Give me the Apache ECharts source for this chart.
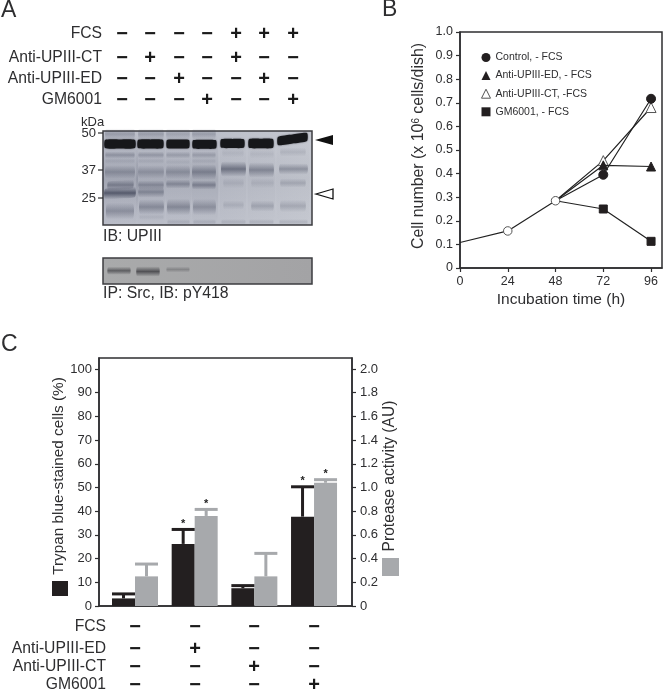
<!DOCTYPE html>
<html><head><meta charset="utf-8">
<style>html,body{margin:0;padding:0;background:#fff}#c{width:664px;height:693px}</style>
<script src="https://cdn.jsdelivr.net/npm/echarts@6/dist/echarts.min.js"></script>
</head><body><div id="c"></div>
<script>
// Panel A table
const tableALabels = ['FCS','Anti-UPIII-CT','Anti-UPIII-ED','GM6001'];
const tableAMarks = ['----+++','-+--+--','--+--+-','---+--+'];
const kDaLabels = ['50','37','25'];
// Panel A blot: [x0, x1, yCentre, height, alpha, tilt] in blot units
const blotMain = [[2,32,13,8,0],[35,60,13,8,0],[64,86,13,8,0],[90,113,13.3,8,0],[118,141,12.5,8,0],[146,170,12.5,8.5,0],[175,204,10,8,-4]];
const blotSmear = [[1,33,48,90,.2,0],[35,61,48,90,.16,0],[64,87,48,90,.15,0],[90,114,48,90,.17,0],[118,142,50,80,.08,0],[146,171,50,80,.08,0],[175,205,50,80,.06,0]];
const blotSoft = [
 [3,31,3,10,.25,0],[36,60,3,10,.25,0],[64,86,3,10,.2,0],[90,112,3,10,.25,0],
 [3,31,24,6,.28,0],[36,60,24,6,.26,0],[64,86,24,6,.22,0],[90,112,24,6,.22,0],[120,140,22,8,.08,0],[148,170,23,8,.08,0],[178,202,21,8,.12,0],
 [3,31,30,5,.1,0],[36,60,30,5,.1,0],[64,86,31,5,.08,0],[90,112,30,5,.1,0],
 [3,31,41,12,.3,0],[36,60,41,12,.28,0],[64,86,41,13,.32,0],[90,112,41,14,.42,0],[119,142,38,14,.55,0],[147,170,39,14,.42,0],[177,204,38,10,.35,0],
 [5,30,55,8,.42,-2],[36,60,54,8,.36,0],[64,86,53,8,.36,0],[90,112,54,8,.42,0],[121,140,52,9,.11,0],[149,170,52,9,.11,0],[178,202,52,8,.2,0],
 [2,32,63,10,.7,-2],[36,60,61,10,.38,0],
 [4,30,80,15,.32,0],[37,60,76,14,.36,0],[65,86,76,15,.38,0],[91,112,76,15,.32,0],[121,140,74,8,.13,0],[149,170,75,10,.22,0],[178,202,75,11,.2,0],
 [37,60,86,5,.08,0],[65,86,91,5,.13,0],[91,112,91,5,.13,0],[119,142,91,5,.12,0],[147,170,91,5,.13,0],[177,204,91,5,.13,0]
];
const blotLower = [[5,27,139.7,7,.6,0],[34,56,140.5,9,.7,0],[64,86,138.5,5,.28,0]];
const blotPanels = [[0,209,0,94],[0,209,127,153]];
// Panel B
const timeTicks = [0,24,48,72,96];
const commonGrowth = [[0,.108],[24,.157],[48,.285]];
const controlGrowth = [[48,.285],[72,.395],[96,.717]];
const edGrowth = [[48,.285],[72,.435],[96,.43]];
const ctGrowth = [[48,.285],[72,.455],[96,.68]];
const gmGrowth = [[48,.285],[72,.25],[96,.113]];
// Panel C
const groupIndex = [0,1,2,3];
const trypanValues = [3.2,26.2,7.5,37.7];
const trypanErrorTop = [5.1,32.3,8.6,50.3];
const proteaseValues = [.25,.76,.25,1.04];
const proteaseErrorTop = [.354,.815,.444,1.066];
const trypanStars = [1,3];
const proteaseStars = [1,3];
const trypanTicks = [0,10,20,30,40,50,60,70,80,90,100];
const proteaseTicks = [0,.2,.4,.6,.8,1,1.2,1.4,1.6,1.8,2];
const tableCLabels = ['FCS','Anti-UPIII-ED','Anti-UPIII-CT','GM6001'];
const tableCMarks = ['----','-+--','--+-','---+'];

const INK='#2e2e30', BLACK='#231f20', GREY='#a7a9ac', FONT='"Liberation Sans", Arial, sans-serif';
const txt=(text,x,y,size,align,extra)=>({type:'text',x,y,z:10,style:Object.assign({text,fill:INK,font:size+'px '+FONT,textAlign:align||'left',textVerticalAlign:'middle'},extra||{})});
const g=[];
g.push(txt('A',1,11,23),txt('B',382,10,23),txt('C',1,345,23));
const mark=(c,x,y)=>txt(c==='+'?'+':'\u2212',x,y,20,'center',{fill:'#1a1a1a',font:'bold 20px '+FONT});
const colA=[122,150,179,207,236,264,293], rowA=[34,58,79,100];
tableALabels.forEach((l,i)=>{g.push(txt(l,102,rowA[i],15.7,'right'));
 tableAMarks[i].split('').forEach((c,j)=>g.push(mark(c,colA[j],rowA[i])));});
const colC=[135,195,254,314], rowC=[627,649,667,685];
tableCLabels.forEach((l,i)=>{g.push(txt(l,106,rowC[i],15.7,'right'));
 tableCMarks[i].split('').forEach((c,j)=>g.push(mark(c,colC[j],rowC[i])));});
g.push(txt('kDa',81,122,13));
[133,170,198].forEach((y,i)=>{g.push(txt(kDaLabels[i],96,y,13,'right'));
 g.push({type:'line',z:10,shape:{x1:98,y1:y,x2:103,y2:y},style:{stroke:INK,lineWidth:1.2}});});
g.push(txt('IB: UPIII',103,237,15.8,'left'),txt('IP: Src, IB: pY418',103,294,15.8,'left'));
g.push({type:'polygon',z:10,shape:{points:[[315,140],[333,135],[333,145]]},style:{fill:'#111'}});
g.push({type:'polygon',z:10,shape:{points:[[316,194],[333,189],[333,199]]},style:{fill:'#fff',stroke:'#111',lineWidth:1.3}});
g.push({type:'rect',z:10,shape:{x:52,y:581,width:16,height:15},style:{fill:BLACK}});
g.push({type:'rect',z:10,shape:{x:382,y:558,width:17,height:18},style:{fill:GREY}});

const softGrad=(a,col)=>new echarts.graphic.LinearGradient(0,0,0,1,[{offset:0,color:`rgba(${col},0)`},{offset:.5,color:`rgba(${col},${a})`},{offset:1,color:`rgba(${col},0)`}]);
function bandShape(api,d){
  const p=(x,y)=>api.coord([x,y]);
  const [x0,x1,yc,h,,tilt]=d, t=tilt||0;
  return {points:[p(x0,yc-h/2),p((x0+x1)/2,yc+t/2-h/2-.5),p(x1,yc+t-h/2),p(x1,yc+t+h/2),p((x0+x1)/2,yc+t/2+h/2+.5),p(x0,yc+h/2)],smooth:.2};
}
const softSeries=(arr,col,z)=>({type:'custom',xAxisIndex:2,yAxisIndex:3,data:arr,z,silent:true,encode:{x:[0,1],y:2},
   renderItem:(p,api)=>{const d=arr[p.dataIndex];return {type:'polygon',shape:bandShape(api,d),style:{fill:softGrad(d[4],col)}};}});
const axisCommon={axisTick:{length:4,lineStyle:{color:INK,width:1.2}},splitLine:{show:false},axisLabel:{color:INK,fontFamily:FONT},axisLine:{onZero:false,lineStyle:{color:INK,width:1.5}}};
const lineBase=(name,data,symbol,size,fill,stroke,z)=>({name,type:'line',xAxisIndex:0,yAxisIndex:0,data,z,symbol:(v,p)=>(p.dataIndex===0?'none':symbol),symbolSize:size,showAllSymbol:true,
  lineStyle:{color:'#222',width:1.2},itemStyle:{color:fill,borderColor:stroke,borderWidth:1},emphasis:{disabled:true}});

const option={animation:false,backgroundColor:'#fff',textStyle:{fontFamily:FONT},
 graphic:g,
 legend:{left:476,top:47,orient:'vertical',itemWidth:9,itemHeight:9,itemGap:7.1,textStyle:{fontSize:10.5,color:INK,fontFamily:FONT},selectedMode:false,
  data:[{name:'Control, - FCS',icon:'circle',itemStyle:{color:BLACK,borderWidth:0}},{name:'Anti-UPIII-ED, - FCS',icon:'triangle',itemStyle:{color:BLACK,borderWidth:0}},
   {name:'Anti-UPIII-CT, -FCS',icon:'triangle',itemStyle:{color:'#fff',borderColor:'#555',borderWidth:1}},{name:'GM6001, - FCS',icon:'rect',itemStyle:{color:BLACK,borderWidth:0}}]},
 grid:[
  {left:460,top:32,width:202,height:236,show:true,borderColor:INK,borderWidth:1.5,backgroundColor:'transparent'},
  {left:99,top:358,width:253,height:248,show:true,borderColor:INK,borderWidth:1.5,backgroundColor:'transparent'},
  {left:103,top:131,width:209,height:153}
 ],
 xAxis:[
  Object.assign({},axisCommon,{type:'value',gridIndex:0,min:0,max:101.5,name:'Incubation time (h)',nameLocation:'middle',nameGap:24,nameTextStyle:{fontSize:15.5,color:INK,fontFamily:FONT},
   axisTick:{length:4,lineStyle:{color:INK,width:1.2},customValues:timeTicks},axisLabel:{color:INK,fontFamily:FONT,fontSize:12.5,margin:7,customValues:timeTicks}}),
  {type:'value',gridIndex:1,min:-.603,max:3.636,axisLabel:{show:false},axisTick:{show:false},splitLine:{show:false},axisLine:{onZero:false,lineStyle:{color:INK,width:1.5}}},
  {type:'value',gridIndex:2,min:0,max:209,show:false}
 ],
 yAxis:[
  Object.assign({},axisCommon,{type:'value',gridIndex:0,min:0,max:1,interval:.1,name:'{a|Cell number (x 10}{s|6}{a| cells/dish)}',nameLocation:'middle',nameGap:33,
   nameTextStyle:{padding:[0,0,0,8],rich:{a:{fontSize:15.9,color:INK,fontFamily:FONT},s:{fontSize:10,color:INK,fontFamily:FONT,verticalAlign:'top',lineHeight:14}}},
   axisLabel:{color:INK,fontFamily:FONT,fontSize:12.5,margin:7,formatter:v=>v===0?'0':v.toFixed(1)}}),
  Object.assign({},axisCommon,{type:'value',gridIndex:1,min:0,max:104.64,position:'left',name:'Trypan blue-stained cells (%)',nameLocation:'middle',nameGap:31,
   nameTextStyle:{fontSize:15.3,color:INK,fontFamily:FONT,padding:[0,0,0,12]},
   axisTick:{length:4,lineStyle:{color:INK,width:1.2},customValues:trypanTicks},axisLabel:{color:INK,fontFamily:FONT,fontSize:13,margin:7,customValues:trypanTicks}}),
  Object.assign({},axisCommon,{type:'value',gridIndex:1,min:0,max:2.0928,position:'right',name:'Protease activity (AU)',nameLocation:'middle',nameGap:30,nameRotate:90,
   nameTextStyle:{fontSize:15.6,color:INK,fontFamily:FONT,padding:[0,0,0,12]},
   axisTick:{length:4,lineStyle:{color:INK,width:1.2},customValues:proteaseTicks},axisLabel:{color:INK,fontFamily:FONT,fontSize:13,margin:8,customValues:proteaseTicks,formatter:v=>v===0?'0':v.toFixed(1)}}),
  {type:'value',gridIndex:2,min:0,max:153,inverse:true,show:false}
 ],
 series:[
  {type:'custom',xAxisIndex:2,yAxisIndex:3,data:blotPanels,z:1,silent:true,clip:false,encode:{x:[0,1],y:[2,3]},
   renderItem:(p,api)=>{const d=blotPanels[p.dataIndex],a=api.coord([d[0],d[2]]),b=api.coord([d[1],d[3]]);
    const upper=p.dataIndex===0;
    return {type:'rect',shape:{x:a[0],y:a[1],width:b[0]-a[0],height:b[1]-a[1]},
     style:{fill:new echarts.graphic.LinearGradient(0,0,1,0,upper?[{offset:0,color:'#babdc8'},{offset:.55,color:'#bcbfc9'},{offset:1,color:'#c5c8d0'}]:[{offset:0,color:'#a9aaab'},{offset:1,color:'#a3a3a5'}]),stroke:'#3c3d40',lineWidth:1.5}};}},
  softSeries(blotSmear,'70,75,95',2),
  softSeries(blotSoft,'50,55,75',2),
  softSeries(blotLower,'45,45,50',2),
  {type:'custom',xAxisIndex:2,yAxisIndex:3,data:blotMain,z:3,silent:true,encode:{x:[0,1],y:2},
   renderItem:(p,api)=>{const r=blotMain[p.dataIndex];const d=[r[0],r[1],r[2],r[3],1,r[4]];return {type:'polygon',shape:bandShape(api,d),style:{fill:'#16171a',shadowBlur:2,shadowColor:'rgba(20,20,30,.5)'}};}},
  lineBase('Anti-UPIII-CT, -FCS',ctGrowth,'triangle',10,'#fff','#555',4),
  lineBase('Anti-UPIII-ED, - FCS',edGrowth,'triangle',9,BLACK,BLACK,5),
  lineBase('GM6001, - FCS',gmGrowth,'rect',8,BLACK,BLACK,5),
  lineBase('Control, - FCS',controlGrowth,'circle',9,BLACK,BLACK,6),
  {name:'Common',type:'line',xAxisIndex:0,yAxisIndex:0,data:commonGrowth,z:7,symbol:(v,p)=>p.dataIndex===0?'none':'circle',symbolSize:8.5,showAllSymbol:true,
   lineStyle:{color:'#222',width:1.2},itemStyle:{color:'#fff',borderColor:'#555',borderWidth:1}},
  {name:'Trypan blue-stained cells',type:'bar',xAxisIndex:1,yAxisIndex:1,barWidth:23,barGap:0,z:3,itemStyle:{color:BLACK},data:groupIndex.map((x,i)=>[x,trypanValues[i]])},
  {name:'Protease activity',type:'bar',xAxisIndex:1,yAxisIndex:2,barWidth:23,barGap:0,z:3,itemStyle:{color:GREY},data:groupIndex.map((x,i)=>[x,proteaseValues[i]])},
  errSeries(1,trypanValues,trypanErrorTop,BLACK,-11.5,trypanStars),
  errSeries(2,proteaseValues,proteaseErrorTop,GREY,11.5,proteaseStars)
 ]};
function errSeries(yIdx,vals,tops,color,dx,stars){
 return {type:'custom',xAxisIndex:1,yAxisIndex:yIdx,z:4,silent:true,data:groupIndex.map((x,i)=>[x,vals[i],tops[i]]),encode:{x:0,y:[1,2]},
  renderItem:(p,api)=>{
   const i=p.dataIndex,x=api.value(0),base=api.coord([x,api.value(1)]),top=api.coord([x,api.value(2)]);
   const cx=base[0]+dx,kids=[
    {type:'rect',shape:{x:cx-1.5,y:top[1],width:3,height:base[1]-top[1]},style:{fill:color}},
    {type:'rect',shape:{x:cx-11.5,y:top[1]-1.5,width:23,height:3},style:{fill:color}}];
   if(stars.includes(i)) kids.push({type:'text',x:cx,y:top[1]-5.5,style:{text:'*',fill:'#222',font:'bold 11px '+FONT,textAlign:'center',textVerticalAlign:'middle'}});
   return {type:'group',children:kids};
  }};
}
const chart=echarts.init(document.getElementById('c'),null,{renderer:'canvas'});
chart.setOption(option);
</script></body></html>
